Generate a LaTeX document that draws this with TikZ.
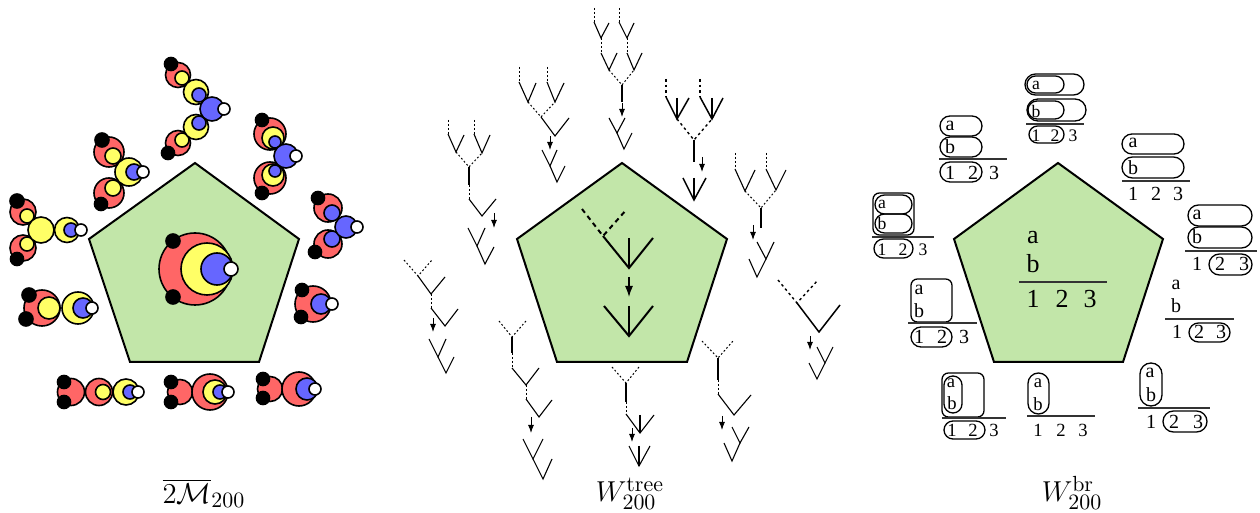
\documentclass[tikz,border=0pt]{standalone}
\usepackage[no-math]{fontspec}
\setmainfont{Liberation Serif}
\usetikzlibrary{arrows.meta}
\definecolor{pentgreen}{HTML}{C2E6A9}
\definecolor{dred}{HTML}{FF6666}
\definecolor{dyel}{HTML}{FFFF66}
\definecolor{dblu}{HTML}{6666FF}
\newcommand{\dsc}[4]{\draw[discline,fill=#1] (#2,#3) circle[radius=#4];}
\newcommand{\rdd}[3]{\dsc{dred}{#1}{#2}{#3}}
\newcommand{\yee}[3]{\dsc{dyel}{#1}{#2}{#3}}
\newcommand{\bll}[3]{\dsc{dblu}{#1}{#2}{#3}}
\newcommand{\whh}[3]{\dsc{white}{#1}{#2}{#3}}
\newcommand{\bkk}[3]{\dsc{black}{#1}{#2}{#3}}
\newcommand{\pil}[4]{\pgfmathsetmacro{\pilr}{min(abs(#3-#1),abs(#4-#2))/4}\draw[brline,rounded corners=\pilr pt] (#1,#2) rectangle (#3,#4);}
\newcommand{\sqrr}[4]{\draw[brline,rounded corners=3.2pt] (#1,#2) rectangle (#3,#4);}
\newcommand{\rul}[3]{\draw[brrule] (#1,#3) -- (#2,#3);}
\newcounter{lbl}
\newcommand{\lbb}[3]{\stepcounter{lbl}\node[brtext] (lb\thelbl) at (#1,#2) {#3};}
\newcommand{\lbs}[3]{\stepcounter{lbl}\node[brsmall] (lb\thelbl) at (#1,#2) {#3};}
\newcommand{\lbm}[3]{\stepcounter{lbl}\node[brmid] (lb\thelbl) at (#1,#2) {#3};}
\newcommand{\lbg}[3]{\stepcounter{lbl}\node[brbig] (lb\thelbl) at (#1,#2) {#3};}
\tikzset{
  x=0.5pt,y=-0.5pt,
  discline/.style={draw=black,line width=0.8pt},
  pent/.style={draw=black,fill=pentgreen,line width=1pt,line join=miter},
  tl/.style={line width=0.55pt,black},
  td/.style={line width=0.5pt,black,dash pattern=on 0.9pt off 1.1pt},
  ml/.style={line width=0.75pt,black},
  md/.style={line width=0.7pt,black,dash pattern=on 1.3pt off 1.5pt},
  bgl/.style={line width=1pt,black},
  bgd/.style={line width=1pt,black,dash pattern=on 2.4pt off 2pt},
  ar/.style={line width=0.5pt,-{Latex[length=4pt,width=3pt]}},
  arb/.style={line width=0.6pt,-{Latex[length=5.5pt,width=4pt]}},
  brline/.style={draw=black,line width=0.65pt},
  brrule/.style={draw=black!80,line width=0.55pt},
  brtext/.style={inner sep=0pt,font=\fontsize{10}{11}\selectfont},
  brsmall/.style={inner sep=0pt,font=\fontsize{8.8}{9}\selectfont},
  brmid/.style={inner sep=0pt,font=\fontsize{9.3}{10}\selectfont},
  brbig/.style={inner sep=0pt,font=\fontsize{13}{14}\selectfont}
}
\begin{document}
\begin{tikzpicture}
\useasboundingbox (0,0) rectangle (1260,513);
% pentagons
\draw[pent] (195,163) -- (299,239) -- (259,362) -- (130,362) -- (89,239) -- cycle;
\draw[pent] (622,163) -- (727,239) -- (687,362) -- (557,362) -- (517,239) -- cycle;
\draw[pent] (1058,163) -- (1163,239) -- (1123,362) -- (994,362) -- (954,239) -- cycle;
%%% LEFT PANEL
% centre
\rdd{195}{269}{36}\yee{207}{269}{26}\bll{217}{269}{16}\whh{231}{269}{7}\bkk{173}{241}{7}\bkk{173}{297}{7}
% top
\rdd{178}{75}{12.5}\yee{182}{78}{7}\bkk{171}{64}{6.5}
\rdd{178}{143}{12.5}\yee{182}{140}{7}\bkk{168}{153}{6.5}
\yee{196}{92}{12.5}\bll{199}{95}{7}
\yee{196}{127}{12.5}\bll{199}{123}{7}
\bll{212}{109}{12}\whh{224}{109}{6}
% upper left
\rdd{109}{152}{15}\yee{113}{156}{8}\bkk{102}{140}{7}
\rdd{109}{193}{15}\yee{113}{188}{8}\bkk{101}{204}{6.5}
\yee{129}{172}{14}\bll{134}{172}{8}\whh{143}{172}{6}
% left
\rdd{23}{212}{13}\yee{27}{216}{7}\bkk{17}{201}{7}
\rdd{23}{248}{13}\yee{27}{244}{7}\bkk{17}{259}{6.5}
\yee{41}{230}{13}
\yee{67}{230}{12.5}\bll{71}{230}{7}\whh{81}{230}{6}
% upper right
\rdd{270}{134}{16}\yee{273}{138}{11}\bll{275}{142}{6}\bkk{262}{120}{6.5}
\rdd{270}{178}{16}\yee{273}{175}{11}\bll{275}{171}{6}\bkk{262}{193}{6.5}
\bll{286}{156}{12}\whh{296}{156}{6}
% right
\rdd{328}{208}{14}\bll{332}{213}{8}\bkk{318}{198}{6.5}
\rdd{328}{244}{14}\bll{332}{239}{8}\bkk{315}{252}{6.5}
\bll{346}{227}{11}\whh{357}{227}{6}
% lower left
\rdd{42}{308}{18}\yee{49}{308}{11}\bkk{29}{295}{7}\bkk{26}{319}{7}
\yee{78}{308}{16}\bll{83}{308}{10}\whh{92}{308}{6}
% lower right
\rdd{313}{304}{18}\bll{321}{304}{10}\whh{332}{304}{6}\bkk{302}{290}{6.5}\bkk{301}{317}{6.5}
% bottom left
\rdd{71}{392}{13.5}\bkk{64}{382}{6.5}\bkk{64}{402}{6.5}
\rdd{99}{392}{13.5}\yee{103}{392}{7.5}
\yee{126}{392}{13}\bll{130}{392}{7}\whh{138}{392}{6}
% bottom mid
\rdd{180}{392}{12.5}\bkk{171}{382}{6.5}\bkk{171}{402}{6.5}
\rdd{210}{392}{18}\yee{215}{392}{12}\bll{220}{392}{7}\whh{228}{392}{6}
% bottom right
\rdd{270}{389}{12.5}\bkk{263}{379}{6.5}\bkk{263}{398}{6.5}
\rdd{299}{389}{17}\bll{307}{389}{11}\whh{315}{389}{6}
%%% TREE PANEL
% A
\draw[td] (448,120) -- (448,134); \draw[tl] (448,134) -- (456,152) -- (464,135);
\draw[td] (474,120) -- (474,134); \draw[tl] (474,134) -- (482,153) -- (490,135);
\draw[td] (456,152) -- (469,167) -- (482,153);
\draw[tl] (469,167) -- (469,185); \draw[td] (469,185) -- (469,199);
\draw[tl] (469,199) -- (482,216) -- (496,199);
\draw[ar] (494,213) -- (494,228);
\draw[tl] (468,228) -- (477,246) -- (485,228);
\draw[tl] (477,246) -- (485,264) -- (494,247);
% B
\draw[td] (519,67) -- (519,82); \draw[tl] (519,82) -- (528,102) -- (536,83);
\draw[td] (547,67) -- (547,82); \draw[tl] (547,82) -- (555,102) -- (564,83);
\draw[td] (528,102) -- (541,117) -- (555,102);
\draw[tl] (541,117) -- (555,136) -- (569,118);
\draw[ar] (550,136) -- (550,150);
\draw[tl] (542,150) -- (550,166) -- (557,150);
\draw[tl] (550,166) -- (557,182) -- (565,166);
% C
\draw[td] (594,8) -- (594,22); \draw[tl] (594,22) -- (601,38) -- (609,23);
\draw[td] (619,8) -- (619,22); \draw[tl] (619,22) -- (627,38) -- (634,23);
\draw[td] (601,38) -- (601,53); \draw[td] (627,38) -- (627,53);
\draw[tl] (601,53) -- (609,70) -- (617,53);
\draw[tl] (627,53) -- (634,70) -- (642,53);
\draw[td] (609,70) -- (622,85) -- (634,70);
\draw[tl] (622,85) -- (622,102);
\draw[ar] (622,103) -- (622,117);
\draw[tl] (609,118) -- (617,133) -- (625,118);
\draw[tl] (617,133) -- (624,149) -- (632,133);
% D
\draw[md] (666,79) -- (666,97); \draw[ml] (666,97) -- (677,119) -- (689,98); \draw[ml] (677,98) -- (677,119);
\draw[md] (700,79) -- (700,97); \draw[ml] (700,97) -- (712,119) -- (723,98); \draw[ml] (712,98) -- (712,119);
\draw[md] (677,119) -- (694,140) -- (712,119);
\draw[ml] (694,140) -- (694,162);
\draw[ar] (702,157) -- (702,172);
\draw[ml] (683,178) -- (694,200) -- (706,178); \draw[ml] (694,178) -- (694,200);
% E
\draw[td] (735,153) -- (735,169); \draw[tl] (735,169) -- (745,191) -- (755,170);
\draw[td] (766,153) -- (766,169); \draw[tl] (766,169) -- (776,190) -- (786,170);
\draw[td] (745,191) -- (761,208) -- (776,190);
\draw[tl] (761,208) -- (761,228);
\draw[ar] (753,225) -- (753,240);
\draw[tl] (757,242) -- (766,259) -- (774,242);
\draw[tl] (749,259) -- (757,277) -- (766,259);
% F
\draw[md] (778,280) -- (797,303) -- (818,280);
\draw[ml] (797,303) -- (819,332) -- (840,305);
\draw[ar] (810,336) -- (810,350);
\draw[tl] (817,347) -- (825,363) -- (833,347);
\draw[tl] (809,363) -- (817,379) -- (825,363);
% G
\draw[td] (702,341) -- (718,358) -- (733,341);
\draw[ml] (718,358) -- (718,380); \draw[td] (718,380) -- (718,394);
\draw[tl] (718,394) -- (734,415) -- (751,395);
\draw[ar] (722,416) -- (722,430);
\draw[tl] (732,427) -- (740,443) -- (749,427);
\draw[tl] (724,443) -- (732,461) -- (740,443);
% H
\draw[td] (612,367) -- (626,383) -- (639,367);
\draw[tl] (626,383) -- (626,402); \draw[td] (626,402) -- (626,414);
\draw[tl] (626,414) -- (640,433) -- (654,415); \draw[tl] (640,415) -- (640,433);
\draw[ar] (632,428) -- (632,442);
\draw[tl] (629,446) -- (639,466) -- (650,446); \draw[tl] (639,446) -- (639,466);
% I
\draw[td] (499,321) -- (512,337) -- (526,321);
\draw[tl] (512,337) -- (512,353); \draw[td] (512,353) -- (512,368);
\draw[tl] (512,368) -- (526,385) -- (539,368);
\draw[td] (526,385) -- (526,399);
\draw[tl] (526,399) -- (539,417) -- (552,400);
\draw[ar] (531,417) -- (531,433);
\draw[tl] (523,439) -- (533,459) -- (543,439);
\draw[tl] (533,459) -- (543,479) -- (552,459);
% J
\draw[td] (404,260) -- (418,276) -- (432,260);
\draw[tl] (418,276) -- (431,294) -- (445,277);
\draw[td] (431,294) -- (431,308);
\draw[tl] (431,308) -- (445,326) -- (458,309);
\draw[ar] (433,318) -- (433,332);
\draw[tl] (429,339) -- (438,357) -- (446,339);
\draw[tl] (438,357) -- (446,373) -- (454,357);
% central tree
\draw[bgd] (582,209) -- (603,236) -- (627,209);
\draw[bgl] (603,236) -- (629,268) -- (653,238); \draw[bgl] (629,238) -- (629,268);
\draw[arb] (629,277) -- (629,297);
\draw[bgl] (604,306) -- (629,336) -- (653,306); \draw[bgl] (629,306) -- (629,336);
%%% BRACKET PANEL
% centre
\lbg{1033}{238}{a}\lbg{1033}{264}{b}
\rul{1019}{1107}{282}
\lbg{1033}{299}{1}\lbg{1062}{299}{2}\lbg{1090}{299}{3}
% upper left
\pil{940}{116}{982}{136}\pil{940}{137}{982}{157}\rul{939}{1007}{159}\pil{940}{162}{982}{182}
\lbb{950}{126}{a}\lbb{950}{147}{b}\lbb{950}{173}{1}\lbb{973}{173}{2}\lbb{994}{173}{3}
% left
\sqrr{873}{193}{914}{235}\pil{875}{195}{912}{214}\pil{875}{214}{912}{233}\rul{872}{934}{237}\pil{874}{239}{913}{258}
\lbs{882}{204}{a}\lbs{882}{223}{b}\lbs{882}{250}{1}\lbs{903}{250}{2}\lbs{923}{250}{3}
% top
\pil{1025}{74}{1084}{95}\pil{1027}{76}{1064}{93}
\pil{1027}{99}{1086}{121}\pil{1028}{101}{1064}{119}
\rul{1026}{1084}{124}\pil{1029}{126}{1064}{143}
\lbs{1036}{85}{a}\lbs{1036}{111}{b}\lbs{1036}{136}{1}\lbs{1055}{136}{2}\lbs{1073}{136}{3}
% upper right
\pil{1122}{134}{1184}{154}\pil{1122}{157}{1184}{178}\rul{1122}{1190}{181}
\lbb{1133}{143}{a}\lbb{1133}{168}{b}\lbb{1133}{194}{1}\lbb{1156}{194}{2}\lbb{1178}{194}{3}
% right
\pil{1188}{205}{1252}{226}\pil{1188}{227}{1252}{248}\rul{1185}{1257}{251}\pil{1209}{254}{1252}{275}
\lbb{1197}{215}{a}\lbb{1197}{237}{b}\lbb{1197}{264}{1}\lbb{1220}{264}{2}\lbb{1244}{264}{3}
% right lower
\lbb{1176}{285}{a}\lbb{1176}{306}{b}\rul{1165}{1234}{319}\pil{1189}{323}{1230}{342}
\lbb{1177}{332}{1}\lbb{1199}{332}{2}\lbb{1221}{332}{3}
% left lower
\sqrr{911}{279}{952}{322}\rul{908}{977}{323}\pil{911}{327}{952}{347}
\lbb{919}{290}{a}\lbb{919}{311}{b}\lbb{919}{337}{1}\lbb{942}{337}{2}\lbb{964}{337}{3}
% bottom left
\sqrr{942}{373}{984}{417}\pil{944}{376}{962}{413}\rul{942}{1006}{418}\pil{944}{421}{985}{439}
\lbm{951}{383}{a}\lbm{952}{403}{b}\lbm{952}{430}{1}\lbm{973}{430}{2}\lbm{994}{430}{3}
% bottom
\pil{1028}{373}{1049}{414}\rul{1027}{1095}{416}
\lbm{1038}{383}{a}\lbm{1038}{404}{b}\lbm{1038}{430}{1}\lbm{1061}{430}{2}\lbm{1083}{430}{3}
% bottom right
\pil{1140}{363}{1162}{406}\rul{1138}{1210}{408}\pil{1163}{411}{1207}{432}
\lbb{1150}{373}{a}\lbb{1151}{395}{b}\lbb{1151}{422}{1}\lbb{1174}{422}{2}\lbb{1198}{422}{3}
%%% CAPTIONS
\node[inner sep=0pt,anchor=base] (capa) at (204,503) {\fontsize{15.5}{18}\selectfont $\overline{2\mathcal{M}}_{200}$};
\node[inner sep=0pt,anchor=base] (capb) at (630,502) {\fontsize{15.5}{18}\selectfont $W_{200}^{\mathrm{tree}}$};
\node[inner sep=0pt,anchor=base] (capc) at (1072,502) {\fontsize{15.5}{18}\selectfont $W_{200}^{\mathrm{br}}$};
\end{tikzpicture}
\end{document}
